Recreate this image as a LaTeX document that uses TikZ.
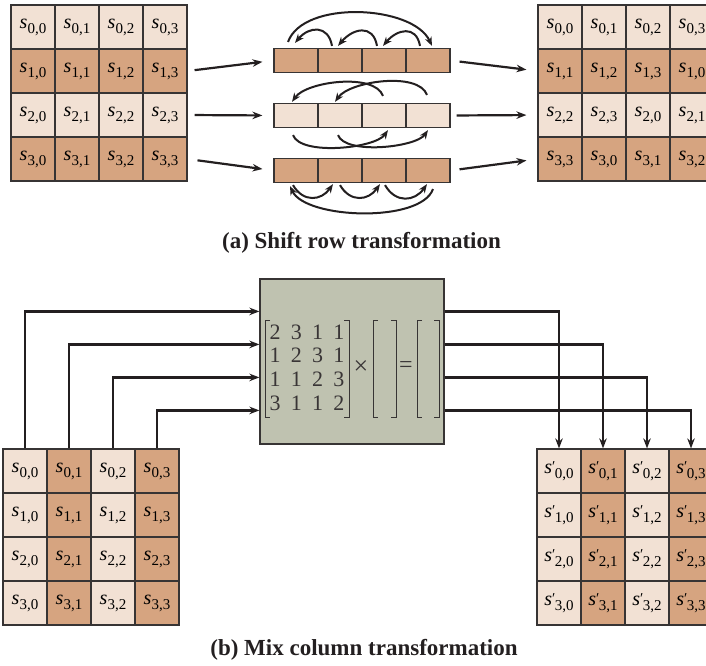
\documentclass[tikz,border=0pt]{standalone}
\usepackage{fontspec}
\setmainfont{Liberation Serif}
\usetikzlibrary{arrows.meta,calc}
\definecolor{lightc}{RGB}{242,225,212}
\definecolor{darkc}{RGB}{214,164,128}
\definecolor{boxc}{RGB}{191,194,176}
\definecolor{ink}{RGB}{35,31,32}
\definecolor{gridc}{RGB}{55,52,52}
\newcommand\subsz{\fontsize{15}{15}\selectfont}
\newcommand\sv[1]{\textit{s}\kern0.3pt\raisebox{-5pt}{\subsz #1}}
\newcommand\svp[1]{\textit{s}\raisebox{2pt}{\subsz\symbol{"2032}}\kern-0.5pt\raisebox{-5pt}{\subsz #1}}
\begin{document}
\begin{tikzpicture}[x=1pt,y=1pt,
  cellbox/.style={draw=gridc, line width=1.2pt, minimum width=44pt, minimum height=44pt, inner sep=0pt, font=\fontsize{20}{20}\selectfont},
  barbox/.style={draw=gridc, line width=1.2pt, minimum width=44pt, minimum height=24pt, inner sep=0pt},
  arr/.style={draw=ink, line width=2.2pt, -{Stealth[length=10pt,width=7.5pt]}},
  arcln/.style={draw=ink, line width=2pt, -{Stealth[length=9pt,width=7pt]}},
  num/.style={font=\fontsize{22}{22}\selectfont, inner sep=0pt, text=ink!90},
  brk/.style={draw=gridc, line width=1pt},
  captxt/.style={font=\bfseries\fontsize{23}{23}\selectfont, text=ink}]
\path[use as bounding box] (0,0) rectangle (706,-665);
\clip (0,0) rectangle (706,-665);

% ---------- (a) Shift rows ----------
\foreach \r in {0,...,3}{
  \foreach \c in {0,...,3}{
    \ifodd\r \def\fc{darkc}\else\def\fc{lightc}\fi
    \pgfmathtruncatemacro\k{mod(\c+\r,4)}
    \node[cellbox, fill=\fc] (TL-\r-\c) at (33+44*\c, -27-44*\r) {\sv{\r,\c}};
    \node[cellbox, fill=\fc] (TR-\r-\c) at (560+44*\c, -27-44*\r) {\sv{\r,\k}};
  }
}
\foreach \c in {0,...,3}{
  \node[barbox, fill=darkc]  (B1-\c) at (296+44*\c, -60.5) {};
  \node[barbox, fill=lightc] (B2-\c) at (296+44*\c, -115.5) {};
  \node[barbox, fill=darkc]  (B3-\c) at (296+44*\c, -170.5) {};
}
\draw[arr, shorten <=7pt, shorten >=11pt] (TL-1-3.east) -- (B1-0.west);
\draw[arr, shorten <=7pt, shorten >=11pt] (TL-2-3.east) -- (B2-0.west);
\draw[arr, shorten <=10pt, shorten >=11pt] (TL-3-3.east) -- (B3-0.west);
\draw[arr, shorten <=9pt, shorten >=11pt] (B1-3.east) -- (TR-1-0.west);
\draw[arr, shorten <=6pt, shorten >=11pt] (B2-3.east) -- (TR-2-0.west);
\draw[arr, shorten <=9pt, shorten >=11pt] (B3-3.east) -- (TR-3-0.west);

% row 1 arcs
\draw[arcln] ($(B1-1.north)+(-8,2)$) to[out=100,in=50,looseness=1.5] ($(B1-0.north)+(-1,5)$);
\draw[arcln] ($(B1-2.north)+(-7,2)$) to[out=100,in=50,looseness=1.5] ($(B1-1.north)+(-2,2)$);
\draw[arcln] ($(B1-3.north)+(-8,2)$) to[out=100,in=50,looseness=1.5] ($(B1-2.north)+(-1,2)$);
\draw[arcln] ($(B1-0.north)+(-8,6)$) to[out=70,in=115,looseness=0.8] ($(B1-3.north)+(4,2)$);
% row 2 arcs
\draw[arcln] ($(B2-2.north)+(-1,7)$) to[out=110,in=55,looseness=0.7] ($(B2-0.north)+(-4,1)$);
\draw[arcln] ($(B2-3.north)+(-1,8)$) to[out=110,in=55,looseness=0.7] ($(B2-1.north)+(-5,1)$);
\draw[arcln] ($(B2-0.south)+(-3,-7)$) to[out=-70,in=-125,looseness=0.6] ($(B2-2.south)+(4,-2)$);
\draw[arcln] ($(B2-1.south)+(-2,-7)$) to[out=-70,in=-125,looseness=0.6] ($(B2-3.south)+(0,-2)$);
% row 3 arcs
\draw[arcln] ($(B3-0.south)+(-3,-2)$) to[out=-60,in=-125,looseness=1.3] ($(B3-1.south)+(-7,-1)$);
\draw[arcln] ($(B3-1.south)+(0,-2)$) to[out=-60,in=-125,looseness=1.3] ($(B3-2.south)+(-4,-1)$);
\draw[arcln] ($(B3-2.south)+(1,-2)$) to[out=-60,in=-125,looseness=1.3] ($(B3-3.south)+(-1,-1)$);
\draw[arcln] ($(B3-3.south)+(5,-6)$) to[out=-110,in=-65,looseness=0.65] ($(B3-0.south)+(-6,-3)$);

\node[captxt] (capa) at (361.5,-243) {(a) Shift row transformation};

% ---------- (b) Mix columns ----------
\node[draw=gridc, line width=1.2pt, fill=boxc, minimum width=184pt, minimum height=165pt, inner sep=0pt] (M) at (352,-361.5) {};
\foreach \row [count=\i from 0] in {{2,3,1,1},{1,2,3,1},{1,1,2,3},{3,1,1,2}}{
  \foreach \v [count=\j from 0] in \row {
    \node[num] (m-\i-\j) at (275+21.3*\j, -332-23.7*\i) {\v};
  }
}
\draw[brk] (270,-320) -- (265,-320) -- (265,-417) -- (270,-417);
\draw[brk] (344,-320) -- (349,-320) -- (349,-417) -- (344,-417);
\draw[brk] (378,-320) -- (373,-320) -- (373,-417) -- (378,-417);
\draw[brk] (391,-320) -- (396,-320) -- (396,-417) -- (391,-417);
\draw[brk] (422,-320) -- (417,-320) -- (417,-417) -- (422,-417);
\draw[brk] (434,-320) -- (439,-320) -- (439,-417) -- (434,-417);
\node[num, font=\fontsize{26}{26}\selectfont] (times) at (361,-368) {\symbol{"D7}};
\node[num, font=\fontsize{24}{24}\selectfont] (eq) at (406,-367) {=};

\foreach \r in {0,...,3}{
  \foreach \c in {0,...,3}{
    \ifodd\c \def\fc{darkc}\else\def\fc{lightc}\fi
    \node[cellbox, fill=\fc] (BL-\r-\c) at (25+44*\c, -471-44*\r) {\sv{\r,\c}};
    \node[cellbox, fill=\fc] (BR-\r-\c) at (559+44*\c, -471-44*\r) {\svp{\r,\c}};
  }
}
\draw[arr] (BL-0-0.north) |- ([yshift=-33pt]M.north west);
\draw[arr] (BL-0-1.north) |- ([yshift=-66pt]M.north west);
\draw[arr] (BL-0-2.north) |- ([yshift=-99pt]M.north west);
\draw[arr] (BL-0-3.north) |- ([yshift=-132pt]M.north west);
\draw[arr] ([yshift=-33pt]M.north east) -| (BR-0-0.north);
\draw[arr] ([yshift=-66pt]M.north east) -| (BR-0-1.north);
\draw[arr] ([yshift=-99pt]M.north east) -| (BR-0-2.north);
\draw[arr] ([yshift=-132pt]M.north east) -| (BR-0-3.north);

\node[captxt] (capb) at (364,-650) {(b) Mix column transformation};
\end{tikzpicture}
\end{document}
